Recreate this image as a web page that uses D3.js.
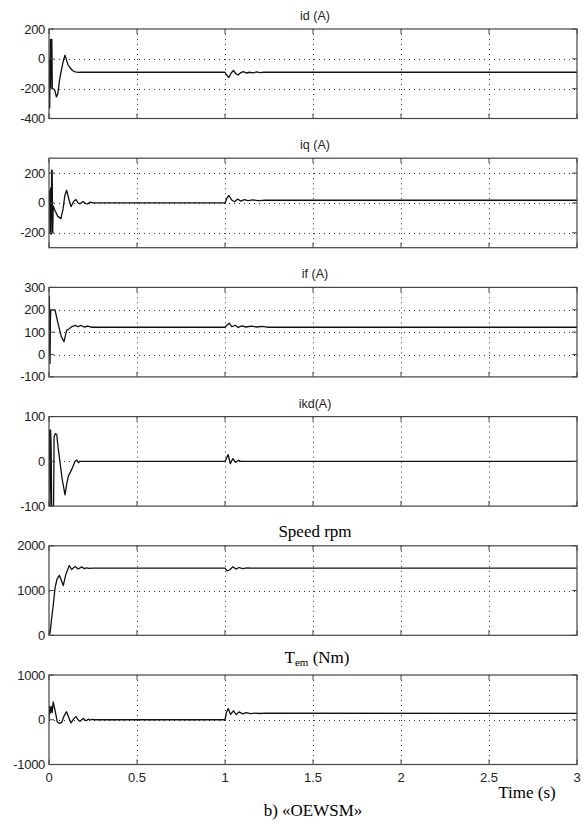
<!DOCTYPE html>
<html>
<head>
<meta charset="utf-8">
<script src="https://cdn.jsdelivr.net/npm/d3@7"></script>
<style>
  html, body { margin: 0; padding: 0; background: #fff; }
  svg { display: block; }
</style>
</head>
<body>
<svg id="chart" width="584" height="823"></svg>
<script>
// Simulated OEWSM start-up (t = 0) and load step (t = 1 s)

const timeTicks = [0, 0.5, 1, 1.5, 2, 2.5, 3];

// Stator d-axis current id (A)
const idTicks = [-400, -200, 0, 200];
const idSeries = [
  [0, 0], [0.002, -150], [0.004, -330], [0.006, -60], [0.008, 130], [0.010, -200],
  [0.013, 130], [0.016, 130], [0.019, -200], [0.025, -200], [0.033, -210],
  [0.042, -255], [0.050, -235], [0.058, -160], [0.066, -100], [0.075, -50],
  [0.083, -5], [0.091, 25], [0.100, -10], [0.108, -40], [0.120, -60],
  [0.135, -80], [0.150, -88], [0.165, -91], [0.180, -89], [0.2, -90],
  [1.0, -90], [1.010, -110], [1.022, -125], [1.035, -95], [1.048, -78],
  [1.062, -100], [1.075, -108], [1.090, -92], [1.105, -86], [1.120, -95],
  [1.140, -90], [1.160, -94], [1.180, -88], [1.200, -92], [1.220, -90], [3, -90]
];

// Stator q-axis current iq (A)
const iqTicks = [-200, 0, 200];
const iqSeries = [
  [0, 0], [0.003, 80], [0.006, -200], [0.009, 100], [0.012, -210], [0.015, 220],
  [0.018, 220], [0.021, -200], [0.024, -20], [0.034, -50], [0.050, -90],
  [0.068, -105], [0.080, -40], [0.090, 50], [0.100, 85], [0.112, 30],
  [0.125, -25], [0.140, 10], [0.153, 23], [0.165, 0], [0.176, -6],
  [0.193, 10], [0.208, -4], [0.220, -6], [0.235, 6], [0.250, 0],
  [1.0, 0], [1.010, 30], [1.022, 50], [1.038, 20], [1.055, 8], [1.072, 26],
  [1.090, 12], [1.110, 22], [1.130, 15], [1.160, 20], [1.190, 16], [1.230, 18], [3, 18]
];

// Field current if (A)
const ifTicks = [-100, 0, 100, 200, 300];
const ifSeries = [
  [0, 0], [0.002, 260], [0.004, 80], [0.006, -40], [0.008, 150], [0.010, 200],
  [0.020, 200], [0.034, 200], [0.045, 160], [0.057, 120], [0.070, 80],
  [0.085, 57], [0.100, 108], [0.115, 115], [0.130, 125], [0.150, 130],
  [0.165, 124], [0.180, 130], [0.200, 123], [0.220, 127], [0.240, 122],
  [1.0, 122], [1.012, 132], [1.024, 140], [1.040, 124], [1.058, 131],
  [1.075, 121], [1.095, 128], [1.120, 123], [1.150, 127], [1.180, 123],
  [1.210, 126], [1.240, 122], [3, 122]
];

// Damper winding current ikd (A)
const ikdTicks = [-100, 0, 100];
const ikdSeries = [
  [0, 0], [0.003, 70], [0.006, -100], [0.009, 70], [0.012, 35], [0.015, -100],
  [0.020, -100], [0.026, -100], [0.029, 55], [0.036, 62], [0.044, 60],
  [0.052, 30], [0.062, 0], [0.075, -40], [0.091, -75], [0.100, -52],
  [0.110, -33], [0.129, -18], [0.148, 0], [0.158, 3], [0.167, -3],
  [0.176, 0], [1.0, 0], [1.010, 8], [1.018, 15], [1.030, -5], [1.045, 6],
  [1.060, -2], [1.075, 2], [1.090, 0], [3, 0]
];

// Rotor speed (rpm)
const speedTicks = [0, 1000, 2000];
const speedSeries = [
  [0, 0], [0.006, 50], [0.015, 380], [0.024, 670], [0.034, 1050],
  [0.045, 1250], [0.059, 1340], [0.070, 1230], [0.081, 1110], [0.095, 1350],
  [0.115, 1560], [0.129, 1470], [0.148, 1540], [0.166, 1480], [0.186, 1530],
  [0.200, 1490], [0.214, 1505], [0.230, 1495], [0.250, 1500],
  [1.0, 1500], [1.012, 1440], [1.028, 1465], [1.045, 1530], [1.062, 1480],
  [1.080, 1515], [1.100, 1490], [1.125, 1505], [1.150, 1500], [3, 1500]
];

// Electromagnetic torque Tem (Nm)
const torqueTicks = [-1000, 0, 1000];
const torqueSeries = [
  [0, 0], [0.003, 300], [0.008, 150], [0.013, 300], [0.018, 160], [0.024, 400],
  [0.035, 200], [0.047, -50], [0.060, -80], [0.072, -60], [0.085, 80],
  [0.100, 180], [0.112, 50], [0.125, -70], [0.140, 20], [0.153, 70],
  [0.165, 0], [0.176, -35], [0.195, 30], [0.205, -10], [0.214, -20],
  [0.223, 15], [0.235, -5], [0.244, 10], [0.260, 0],
  [1.0, 0], [1.008, 160], [1.018, 250], [1.032, 120], [1.048, 200],
  [1.064, 115], [1.080, 175], [1.100, 130], [1.120, 160], [1.145, 135],
  [1.170, 150], [1.200, 140], [1.230, 148], [3, 142]
];

const panels = [
  { title: "id (A)", serif: false, domain: [-400, 200], ticks: idTicks, data: idSeries },
  { title: "iq (A)", serif: false, domain: [-300, 300], ticks: iqTicks, data: iqSeries },
  { title: "if (A)", serif: false, domain: [-100, 300], ticks: ifTicks, data: ifSeries },
  { title: "ikd(A)", serif: false, domain: [-100, 100], ticks: ikdTicks, data: ikdSeries },
  { title: "Speed rpm", serif: true, domain: [0, 2000], ticks: speedTicks, data: speedSeries },
  { title: "Tem", serif: true, sub: true, domain: [-1000, 1000], ticks: torqueTicks, data: torqueSeries }
];

// Layout
const left = 49, right = 577;
const firstTop = 29, step = 129.2, panelH = 89.5;
const sansFont = "'Liberation Sans', Arial, sans-serif";
const serifFont = "'Liberation Serif', 'Times New Roman', serif";

const svg = d3.select("#chart");
const x = d3.scaleLinear().domain([0, 3]).range([left, right]);

panels.forEach((p, i) => {
  const top = firstTop + i * step;
  const bottom = top + panelH;
  const y = d3.scaleLinear().domain(p.domain).range([bottom, top]);
  const g = svg.append("g");

  const clipId = "clip" + i;
  svg.append("clipPath").attr("id", clipId)
    .append("rect").attr("x", left).attr("y", top)
    .attr("width", right - left).attr("height", panelH);

  // dotted grid
  const grid = g.append("g").attr("stroke", "#333").attr("stroke-width", 1)
    .attr("stroke-dasharray", "1,4").attr("fill", "none");
  timeTicks.filter(t => t > 0 && t < 3).forEach(t => {
    grid.append("line").attr("x1", Math.round(x(t)) + 0.5).attr("x2", Math.round(x(t)) + 0.5)
      .attr("y1", top).attr("y2", bottom);
  });
  p.ticks.filter(v => v > p.domain[0] && v < p.domain[1]).forEach(v => {
    grid.append("line").attr("x1", left).attr("x2", right)
      .attr("y1", Math.round(y(v)) + 0.5).attr("y2", Math.round(y(v)) + 0.5);
  });

  // signal
  const line = d3.line().x(d => x(d[0])).y(d => y(d[1]));
  g.append("path").datum(p.data)
    .attr("clip-path", `url(#${clipId})`)
    .attr("d", line)
    .attr("fill", "none").attr("stroke", "#111").attr("stroke-width", 1.3)
    .attr("stroke-linejoin", "round");

  // frame
  g.append("rect").attr("x", left).attr("y", top)
    .attr("width", right - left).attr("height", panelH)
    .attr("fill", "none").attr("stroke", "#444").attr("stroke-width", 1.2);

  // inward ticks on all sides
  const tk = g.append("g").attr("stroke", "#444").attr("stroke-width", 1);
  timeTicks.forEach(t => {
    const xx = x(t);
    tk.append("line").attr("x1", xx).attr("x2", xx).attr("y1", bottom).attr("y2", bottom - 5);
    tk.append("line").attr("x1", xx).attr("x2", xx).attr("y1", top).attr("y2", top + 5);
  });
  p.ticks.forEach(v => {
    const yy = y(v);
    tk.append("line").attr("x1", left).attr("x2", left + 5).attr("y1", yy).attr("y2", yy);
    tk.append("line").attr("x1", right).attr("x2", right - 5).attr("y1", yy).attr("y2", yy);
  });

  // y tick labels
  g.append("g").selectAll("text").data(p.ticks).join("text")
    .attr("x", left - 4).attr("y", v => y(v))
    .attr("text-anchor", "end").attr("dominant-baseline", "central")
    .attr("font-family", sansFont).attr("font-size", 13).attr("fill", "#222")
    .attr("letter-spacing", -0.3)
    .text(v => v);

  // panel title
  if (!p.serif) {
    g.append("text").attr("x", (left + right) / 2 + 2).attr("y", top - 9)
      .attr("text-anchor", "middle").attr("font-family", sansFont)
      .attr("font-size", 12.5).attr("fill", "#222").text(p.title);
  } else if (!p.sub) {
    g.append("text").attr("x", (left + right) / 2 + 2).attr("y", top - 9)
      .attr("text-anchor", "middle").attr("font-family", serifFont)
      .attr("font-size", 17).attr("fill", "#000").text(p.title);
  } else {
    const t = g.append("text").attr("x", (left + right) / 2 + 4).attr("y", top - 12)
      .attr("text-anchor", "middle").attr("font-family", serifFont)
      .attr("font-size", 17).attr("fill", "#000");
    t.append("tspan").text("T");
    t.append("tspan").attr("font-size", 11).attr("dy", 3).text("em");
    t.append("tspan").attr("dy", -3).text(" (Nm)");
  }

  // time tick labels on the last panel only
  if (i === panels.length - 1) {
    g.append("g").selectAll("text").data(timeTicks).join("text")
      .attr("x", t => x(t)).attr("y", bottom + 13)
      .attr("text-anchor", "middle").attr("dominant-baseline", "central")
      .attr("font-family", sansFont).attr("font-size", 13).attr("fill", "#222")
      .text(t => t);
    g.append("text").attr("x", 527).attr("y", bottom + 33)
      .attr("text-anchor", "middle").attr("font-family", serifFont)
      .attr("font-size", 17).attr("fill", "#000").text("Time (s)");
  }
});

svg.append("text").attr("x", 313).attr("y", 816)
  .attr("text-anchor", "middle").attr("font-family", serifFont)
  .attr("font-size", 17).attr("fill", "#000").text("b) «OEWSM»");
</script>
</body>
</html>
